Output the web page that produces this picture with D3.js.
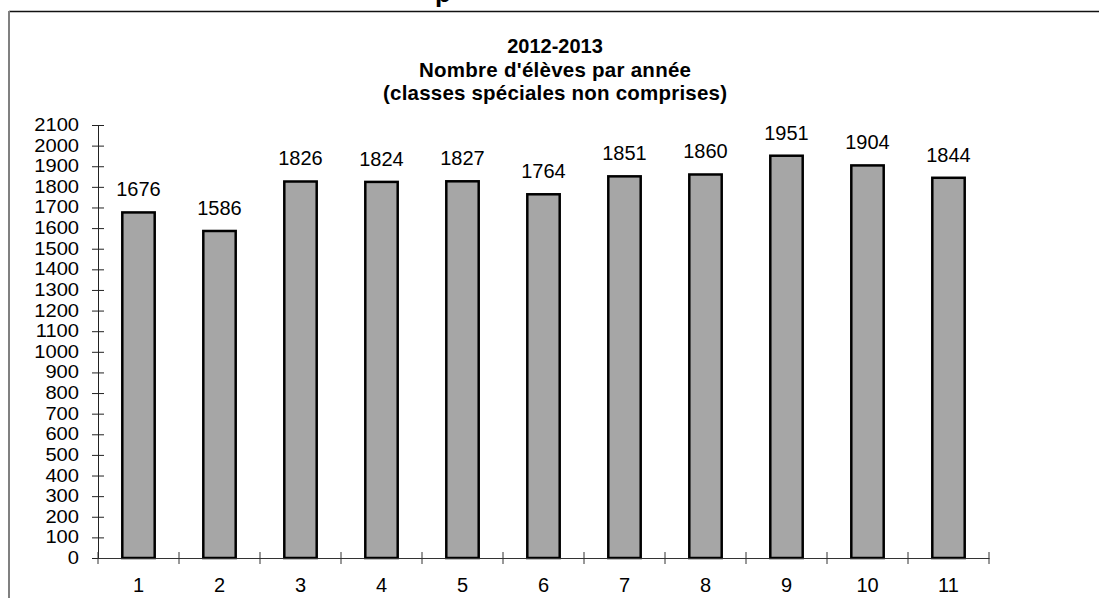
<!DOCTYPE html>
<html><head><meta charset="utf-8">
<script src="https://cdn.jsdelivr.net/npm/d3@7"></script>
<style>body{margin:0;background:#fff;}svg{display:block;}</style>
</head><body>
<script>
const categories = ["1","2","3","4","5","6","7","8","9","10","11"];
const values = [1676,1586,1826,1824,1827,1764,1851,1860,1951,1904,1844];
const yTicks = [0,100,200,300,400,500,600,700,800,900,1000,1100,1200,1300,1400,1500,1600,1700,1800,1900,2000,2100];
const titleLines = ["2012-2013","Nombre d'élèves par année","(classes spéciales non comprises)"];

const W = 1099, H = 598;
const svg = d3.select("body").append("svg").attr("width", W).attr("height", H);
const font = "Arial, 'Liberation Sans', sans-serif";

// frame (partially visible)
svg.append("line").attr("x1",9).attr("x2",W).attr("y1",11.5).attr("y2",11.5).attr("stroke","#111").attr("stroke-width",1.5);
svg.append("line").attr("x1",9).attr("x2",9).attr("y1",11).attr("y2",H).attr("stroke","#808080").attr("stroke-width",2);
// cut-off title fragment above frame
svg.append("text").attr("x",435).attr("y",2).attr("font-family",font).attr("font-weight","bold").attr("font-size",26).attr("fill","#000").text("p");

const x = d3.scaleBand().domain(categories).range([98, 989]).padding(0);
const y = d3.scaleLinear().domain([0, 2100]).range([558, 125]);

// title
const titleSizes = [20, 20.5, 20.5];
const titleWidths = [null, 272, 344];
svg.append("g").selectAll("text").data(titleLines).join("text")
  .attr("x", 555).attr("y", (d,i) => 53 + i*23.5)
  .attr("text-anchor","middle").attr("font-family",font).attr("font-weight","bold")
  .attr("font-size",(d,i)=>titleSizes[i]).attr("fill","#000")
  .each(function(d,i){ if (titleWidths[i]) d3.select(this).attr("textLength", titleWidths[i]).attr("lengthAdjust","spacing"); })
  .text(d => d);

// y axis
const yAxis = svg.append("g").attr("transform","translate(98,0)")
  .call(d3.axisLeft(y).tickValues(yTicks).tickSizeInner(6).tickSizeOuter(0).tickFormat(""));
yAxis.select(".domain").attr("stroke","#222");
yAxis.selectAll(".tick line").attr("x1",-6).attr("x2",6).attr("stroke","#222");
svg.append("g").selectAll("text").data(yTicks).join("text")
  .attr("transform", d => `translate(79,${y(d)+6}) scale(1.15,1)`)
  .attr("text-anchor","end").attr("font-family",font).attr("font-size",17.5).attr("fill","#000")
  .text(d => d);

// bars
const bw = x.bandwidth()*0.4;
svg.append("g").selectAll("rect").data(values).join("rect")
  .attr("x",(d,i)=> x(categories[i]) + x.bandwidth()/2 - bw/2)
  .attr("y", d => y(d)).attr("width", bw).attr("height", d => y(0)-y(d))
  .attr("fill","#a6a6a6").attr("stroke","#000").attr("stroke-width",2.5);

// x axis
const xAxis = svg.append("g").attr("transform","translate(0,558)")
  .call(d3.axisBottom(x).tickSize(0).tickFormat(""));
xAxis.select(".domain").attr("stroke","#333");
const bounds = categories.map(c => x(c)).concat([x(categories[categories.length-1]) + x.bandwidth()]);
svg.append("g").selectAll("line").data(bounds).join("line")
  .attr("x1",d=>d).attr("x2",d=>d).attr("y1",552).attr("y2",564).attr("stroke","#333");
svg.append("g").selectAll("text").data(categories).join("text")
  .attr("x", d => x(d) + x.bandwidth()/2).attr("y", 592)
  .attr("text-anchor","middle").attr("font-family",font).attr("font-size",20).attr("fill","#000").text(d=>d);

// value labels
svg.append("g").selectAll("text").data(values).join("text")
  .attr("x",(d,i)=> x(categories[i]) + x.bandwidth()/2).attr("y", d => y(d) - 16)
  .attr("text-anchor","middle").attr("font-family",font).attr("font-size",20).attr("fill","#000").text(d=>d);
</script>
</body></html>
